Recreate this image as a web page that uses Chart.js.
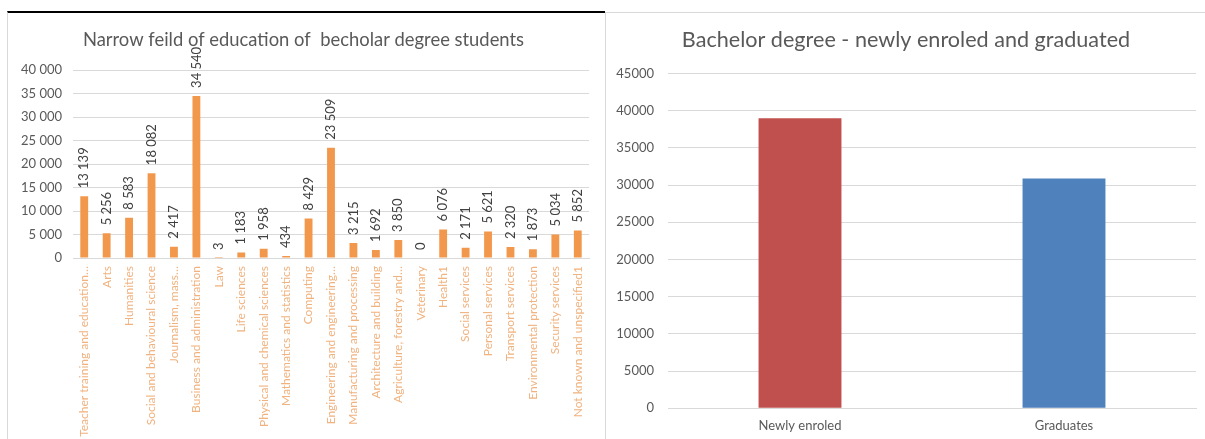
<!DOCTYPE html>
<html>
<head>
<meta charset="utf-8">
<script src="https://cdn.jsdelivr.net/npm/chart.js@4.4.1/dist/chart.umd.min.js"></script>
<style>
  html, body { margin: 0; padding: 0; background: #fff; }
  body { width: 1205px; height: 439px; position: relative; overflow: hidden; }
  #leftWrap { position: absolute; left: 7px; top: 11px; width: 598px; height: 428px; border-left: 1px solid #d9d9d9; border-top: 2px solid #000; box-sizing: border-box; }
  #rightWrap { position: absolute; left: 605px; top: 12px; width: 600px; height: 427px; border-left: 1px solid #d9d9d9; border-top: 1px solid #d9d9d9; box-sizing: border-box; }
  canvas { position: absolute; left: 0; top: 0; }
</style>
</head>
<body>
<div id="leftWrap"><canvas id="c1" width="597" height="426"></canvas></div>
<div id="rightWrap"><canvas id="c2" width="599" height="426"></canvas></div>
<script>
// ---- Data: left chart ----
const fieldCategories = [
  "Teacher training and education…",
  "Arts",
  "Humanities",
  "Social and behavioural science",
  "Journalism, mass…",
  "Business and administration",
  "Law",
  "Life sciences",
  "Physical and chemical sciences",
  "Mathematics and statistics",
  "Computing",
  "Engineering and engineering…",
  "Manufacturing and processing",
  "Architecture and building",
  "Agriculture, forestry and…",
  "Veterinary",
  "Health1",
  "Social services",
  "Personal services",
  "Transport services",
  "Environmental protection",
  "Security services",
  "Not known and unspecified1"
];
const fieldStudents = [13139, 5256, 8583, 18082, 2417, 34540, 3, 1183, 1958, 434, 8429, 23509, 3215, 1692, 3850, 0, 6076, 2171, 5621, 2320, 1873, 5034, 5852];
const leftTitle = "Narrow feild of education of  becholar degree students";
const leftYMax = 40000;
const leftYStep = 5000;

// ---- Data: right chart ----
const degreeCategories = ["Newly enroled", "Graduates"];
const degreeValues = [39000, 30900];
const rightTitle = "Bachelor degree - newly enroled and graduated";
const rightYMax = 45000;
const rightYStep = 5000;

const FONT = "Lato, 'Open Sans', sans-serif";
const spaceFmt = v => String(v).replace(/\B(?=(\d{3})+(?!\d))/g, ' ');

const barLabelPlugin = {
  id: 'barLabels',
  afterDatasetsDraw(chart) {
    const ctx = chart.ctx;
    const meta = chart.getDatasetMeta(0);
    const data = chart.data.datasets[0].data;
    ctx.save();
    ctx.fillStyle = '#404040';
    ctx.font = "13px " + FONT;
    ctx.textAlign = 'left';
    ctx.textBaseline = 'middle';
    meta.data.forEach((bar, i) => {
      ctx.save();
      ctx.translate(bar.x, bar.y - 8);
      ctx.rotate(-Math.PI / 2);
      ctx.fillText(spaceFmt(data[i]), 0, 0);
      ctx.restore();
    });
    ctx.restore();
  }
};

new Chart(document.getElementById('c1'), {
  type: 'bar',
  data: {
    labels: fieldCategories,
    datasets: [{
      data: fieldStudents,
      backgroundColor: '#F2984C',
      barPercentage: 0.35,
      categoryPercentage: 1.0
    }]
  },
  options: {
    responsive: false,
    animation: false,
    devicePixelRatio: 1,
    layout: { padding: { left: 10, right: 16, top: 0, bottom: 0 } },
    plugins: {
      legend: { display: false },
      tooltip: { enabled: false },
      title: {
        display: true,
        text: leftTitle,
        color: '#595959',
        font: { family: FONT, size: 18.4, weight: 'normal', lineHeight: 1.2 },
        padding: { top: 16, bottom: 19.2 }
      }
    },
    scales: {
      x: {
        grid: { display: false, drawTicks: false },
        border: { display: true, color: '#d9d9d9' },
        ticks: {
          autoSkip: false,
          minRotation: 90,
          maxRotation: 90,
          padding: 8,
          color: '#F0B27F',
          font: { family: FONT, size: 12 }
        },
        afterFit: s => { s.height = 181; }
      },
      y: {
        min: 0,
        max: leftYMax,
        grid: { color: '#d9d9d9', drawTicks: false },
        border: { display: false },
        ticks: {
          stepSize: leftYStep,
          padding: 11,
          color: '#595959',
          font: { family: FONT, size: 13 },
          callback: v => spaceFmt(v)
        },
        afterFit: s => { s.width = 55; }
      }
    }
  },
  plugins: [barLabelPlugin]
});

new Chart(document.getElementById('c2'), {
  type: 'bar',
  data: {
    labels: degreeCategories,
    datasets: [{
      data: degreeValues,
      backgroundColor: ['#C0504D', '#4F81BD'],
      barPercentage: 0.314,
      categoryPercentage: 1.0
    }]
  },
  options: {
    responsive: false,
    animation: false,
    devicePixelRatio: 1,
    layout: { padding: { left: 10, right: 9, top: 0, bottom: 0 } },
    plugins: {
      legend: { display: false },
      tooltip: { enabled: false },
      title: {
        display: true,
        text: rightTitle,
        color: '#595959',
        font: { family: FONT, size: 21.6, weight: 'normal', lineHeight: 1.2 },
        padding: { top: 14, bottom: 20.6 }
      }
    },
    scales: {
      x: {
        grid: { display: false, drawTicks: false },
        border: { display: true, color: '#d9d9d9' },
        ticks: {
          padding: 10,
          color: '#595959',
          font: { family: FONT, size: 13 }
        },
        afterFit: s => { s.height = 30.7; }
      },
      y: {
        min: 0,
        max: rightYMax,
        grid: { color: '#d9d9d9', drawTicks: false },
        border: { display: false },
        ticks: {
          stepSize: rightYStep,
          padding: 14,
          color: '#595959',
          font: { family: FONT, size: 13 },
          callback: v => String(v)
        },
        afterFit: s => { s.width = 52; }
      }
    }
  }
});
</script>
</body>
</html>
